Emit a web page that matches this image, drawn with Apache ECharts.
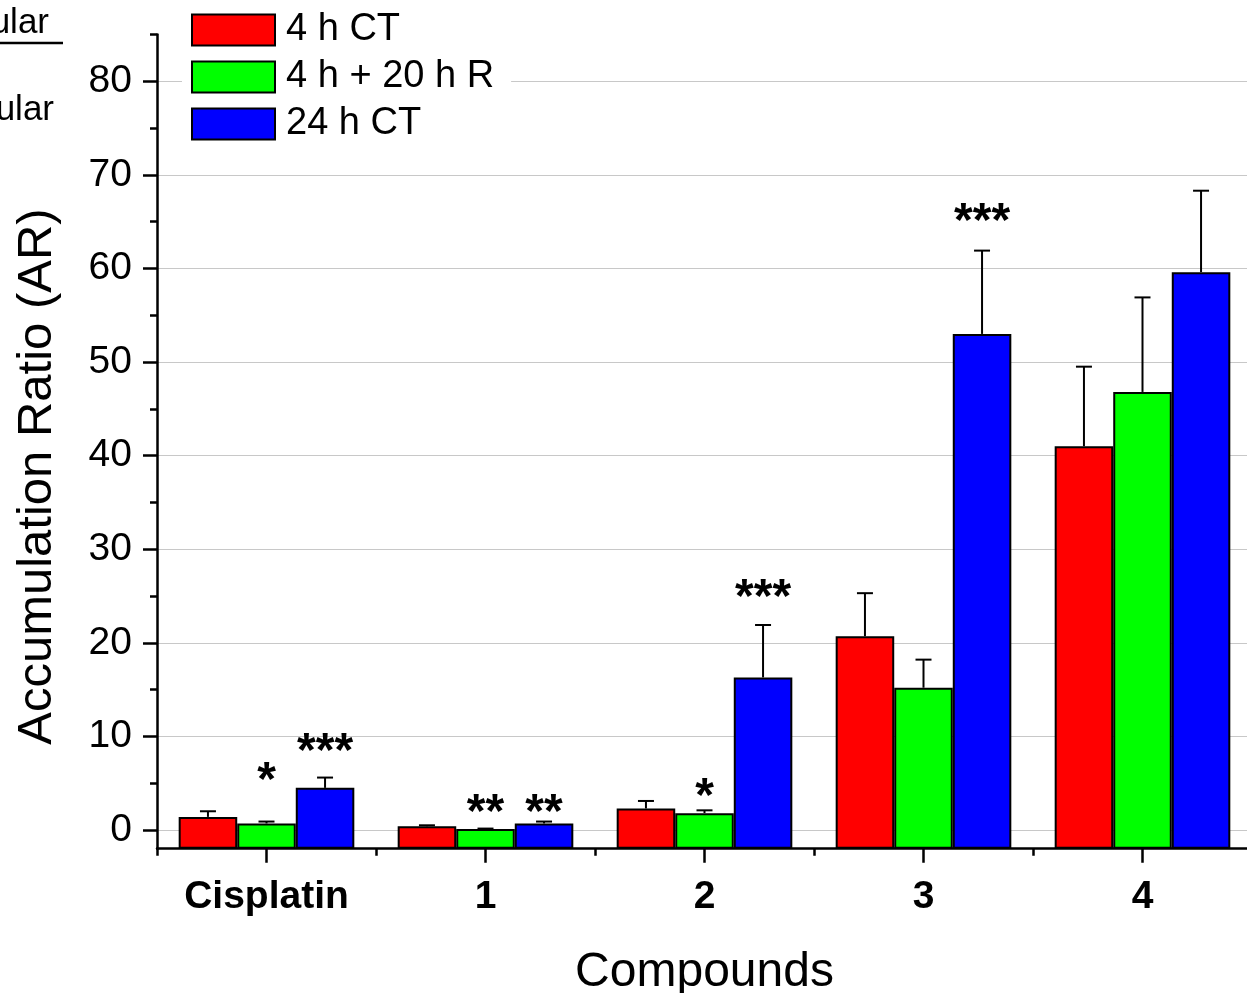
<!DOCTYPE html>
<html>
<head>
<meta charset="utf-8">
<script src="https://cdn.jsdelivr.net/npm/echarts@6/dist/echarts.min.js"></script>
<style>
  html, body { margin: 0; padding: 0; background: #fff; }
  #chart { width: 1247px; height: 993px; }
</style>
</head>
<body>
<div id="chart"></div>
<script>
// Accumulation ratio per compound and treatment (mean and SD)
const compounds = ['Cisplatin', '1', '2', '3', '4'];
const seriesNames = ['4 h CT', '4 h + 20 h R', '24 h CT'];

const ct4Mean = [1.4, 0.4, 2.3, 20.7, 41.0];
const ct4Sd = [0.6, 0.1, 0.8, 4.6, 8.5];
const rec20Mean = [0.7, 0.1, 1.8, 15.2, 46.8];
const rec20Sd = [0.2, 0.05, 0.3, 3.0, 10.1];
const ct24Mean = [4.5, 0.7, 16.3, 53.0, 59.6];
const ct24Sd = [1.1, 0.2, 5.6, 8.9, 8.7];

// significance marks and the AR level at which each one is printed
const ct4Sig = ['', '', '', '', ''];
const ct4SigLevel = [null, null, null, null, null];
const rec20Sig = ['*', '**', '*', '', ''];
const rec20SigLevel = [6.25, 2.8, 4.5, null, null];
const ct24Sig = ['***', '**', '***', '***', ''];
const ct24SigLevel = [9.35, 2.8, 25.8, 65.9, null];

const yMin = -2;
const yMax = 85;
const yMajorTicks = [0, 10, 20, 30, 40, 50, 60, 70, 80];
const yMinorTicks = [5, 15, 25, 35, 45, 55, 65, 75, 85];

const colors = ['#ff0000', '#00ff00', '#0000ff'];
const FONT = '"Liberation Sans", Arial, Helvetica, sans-serif';
const CAT_GAP = 0.198;

const means = [ct4Mean, rec20Mean, ct24Mean];
const sds = [ct4Sd, rec20Sd, ct24Sd];
const sigs = [ct4Sig, rec20Sig, ct24Sig];
const sigLevels = [ct4SigLevel, rec20SigLevel, ct24SigLevel];

// rows for the error-bar layer: [category, group, mean, mean + SD]
const errRows = [];
means.forEach((arr, k) => arr.forEach((v, i) => errRows.push([i, k, v, v + sds[k][i]])));

// rows for the significance layer
const sigRows = [];
sigs.forEach((arr, k) => arr.forEach((s, i) => {
  if (s) sigRows.push({ value: [i, k, sigLevels[k][i]], mark: s });
}));

function barCenterX(api, cat, k) {
  const band = api.size([1, 0])[0];
  const barW = band * (1 - CAT_GAP) / 3;
  return api.coord([cat, 0])[0] + (k - 1) * barW;
}

function renderError(params, api) {
  const cat = api.value(0), k = api.value(1);
  const x = barCenterX(api, cat, k);
  const yTop = api.coord([cat, api.value(2)])[1];
  const yHi = api.coord([cat, api.value(3)])[1];
  const capHalf = 8;
  return {
    type: 'group',
    children: [
      { type: 'line', shape: { x1: x, y1: yTop, x2: x, y2: yHi }, style: { stroke: '#000', lineWidth: 2 } },
      { type: 'line', shape: { x1: x - capHalf, y1: yHi, x2: x + capHalf, y2: yHi }, style: { stroke: '#000', lineWidth: 2 } }
    ]
  };
}

function renderSig(params, api) {
  const cat = api.value(0), k = api.value(1);
  const x = barCenterX(api, cat, k);
  const y = api.coord([cat, api.value(2)])[1];
  return {
    type: 'text',
    style: {
      text: sigRows[params.dataIndex].mark,
      x: x, y: y + 10,
      align: 'center', verticalAlign: 'middle',
      fontSize: 48, fontWeight: 'bold', fontFamily: FONT, fill: '#000'
    }
  };
}

const barSeries = seriesNames.map((name, k) => ({
  name: name,
  type: 'bar',
  data: means[k],
  barGap: '0%',
  barCategoryGap: (CAT_GAP * 100) + '%',
  itemStyle: { color: colors[k], borderColor: '#000', borderWidth: 2 },
  emphasis: { disabled: true },
  z: 2
}));

const chart = echarts.init(document.getElementById('chart'), null, { renderer: 'canvas' });

chart.setOption({
  animation: false,
  backgroundColor: '#fff',
  textStyle: { fontFamily: FONT, color: '#000' },
  // the plot runs slightly past the right edge of the page
  grid: { left: 157, top: 34.4, width: 1095, height: 814.3, outerBoundsMode: 'none', containLabel: false },
  legend: {
    data: seriesNames,
    orient: 'vertical',
    left: 182,
    top: 11,
    padding: [0, 17, 0, 9],
    backgroundColor: '#fff',
    itemWidth: 83,
    itemHeight: 31,
    itemGap: 9,
    icon: 'rect',
    itemStyle: { borderColor: '#000', borderWidth: 2 },
    textStyle: { fontSize: 38, fontFamily: FONT, color: '#000', padding: [4, 0, 0, 6] },
    selectedMode: false
  },
  xAxis: [
    {
      type: 'category',
      data: compounds,
      name: 'Compounds',
      nameLocation: 'middle',
      nameGap: 100,
      nameTextStyle: { fontSize: 48, fontFamily: FONT, color: '#000' },
      axisLine: { show: true, onZero: false, lineStyle: { color: '#000', width: 2.5 } },
      axisTick: { show: true, alignWithLabel: true, length: 14, lineStyle: { color: '#000', width: 2.5 } },
      axisLabel: { fontSize: 39, fontWeight: 'bold', fontFamily: FONT, color: '#000', margin: 29 }
    },
    {
      type: 'category',
      data: compounds,
      position: 'bottom',
      axisLine: { show: false, onZero: false },
      axisTick: { show: true, alignWithLabel: false, length: 7, lineStyle: { color: '#000', width: 2.5 } },
      axisLabel: { show: false }
    }
  ],
  yAxis: [
    {
      type: 'value',
      min: yMin,
      max: yMax,
      startValue: yMin,
      name: 'Accumulation Ratio (AR)',
      nameLocation: 'middle',
      nameGap: 95,
      nameTextStyle: { fontSize: 49, fontFamily: FONT, color: '#000', padding: [0, 70, 0, 0] },
      axisLine: { show: true, onZero: false, lineStyle: { color: '#000', width: 2.5 } },
      axisTick: { show: true, length: 14, customValues: yMajorTicks, lineStyle: { color: '#000', width: 2.5 } },
      axisLabel: { fontSize: 39, fontFamily: FONT, color: '#000', margin: 25, customValues: yMajorTicks },
      splitLine: { show: true, lineStyle: { color: '#c8c8c8', width: 1.2 } }
    },
    {
      type: 'value',
      min: yMin,
      max: yMax,
      position: 'left',
      axisLine: { show: false, onZero: false },
      axisTick: { show: true, length: 7, customValues: yMinorTicks, lineStyle: { color: '#000', width: 2.5 } },
      axisLabel: { show: false },
      splitLine: { show: false }
    }
  ],
  graphic: [
    { type: 'text', x: 49, y: 23, style: { text: 'ular', align: 'right', verticalAlign: 'middle', fontSize: 35, fontFamily: FONT, fill: '#000' } },
    { type: 'line', shape: { x1: 0, y1: 43, x2: 63, y2: 43 }, style: { stroke: '#000', lineWidth: 2.5 } },
    { type: 'text', x: 54, y: 110, style: { text: 'ular', align: 'right', verticalAlign: 'middle', fontSize: 35, fontFamily: FONT, fill: '#000' } }
  ],
  series: barSeries.concat([
    {
      type: 'custom',
      renderItem: renderError,
      data: errRows,
      encode: { x: 0, y: 3 },
      z: 3,
      silent: true
    },
    {
      type: 'custom',
      renderItem: renderSig,
      data: sigRows,
      encode: { x: 0, y: 2 },
      z: 4,
      silent: true
    }
  ])
});
</script>
</body>
</html>
